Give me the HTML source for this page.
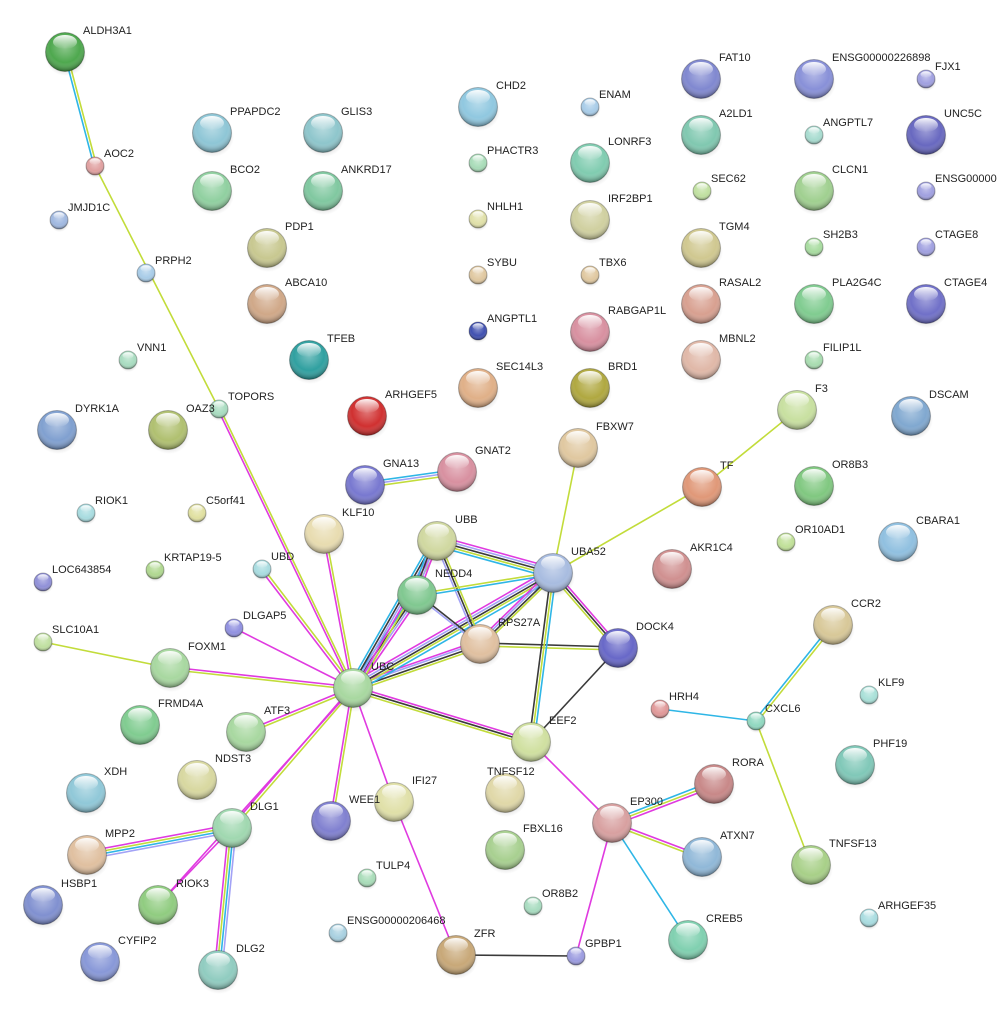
<!DOCTYPE html>
<html><head><meta charset="utf-8"><style>
html,body{margin:0;padding:0;background:#fff;}
svg{display:block;}
text{font-family:"Liberation Sans",sans-serif;font-size:11px;fill:#222;}
line{stroke-width:1.6;}
.m{stroke:#e03ae0}.y{stroke:#c2dc3a}.c{stroke:#2eb6e6}.k{stroke:#3a3a3a}.p{stroke:#a2a2f6}
</style></head><body>
<svg width="997" height="1018" viewBox="0 0 997 1018" xmlns="http://www.w3.org/2000/svg">
<defs>
<radialGradient id="sh" cx="50%" cy="38%" r="60%"><stop offset="0" stop-color="#fff" stop-opacity=".35"/><stop offset=".65" stop-color="#fff" stop-opacity="0"/><stop offset="1" stop-color="#000" stop-opacity=".35"/></radialGradient>
<linearGradient id="hl" x1="0" y1="0" x2="0" y2="1"><stop offset="0" stop-color="#fff" stop-opacity=".95"/><stop offset="1" stop-color="#fff" stop-opacity="0"/></linearGradient>
<radialGradient id="sd"><stop offset="0" stop-color="#000" stop-opacity=".35"/><stop offset="1" stop-color="#000" stop-opacity="0"/></radialGradient>
<g id="B"><circle r="19.5" fill="url(#sh)" stroke="#000" stroke-opacity=".25"/><ellipse cy="-10" rx="12" ry="7" fill="url(#hl)"/></g>
<g id="S"><circle r="9" fill="url(#sh)" stroke="#000" stroke-opacity=".25"/><ellipse cy="-4.5" rx="5.5" ry="3.2" fill="url(#hl)"/></g>
<ellipse id="BD" cx="1" cy="4" rx="21" ry="20" fill="url(#sd)"/>
<ellipse id="SD" cx="0.5" cy="2" rx="10" ry="10" fill="url(#sd)"/>
</defs>

<!-- edges -->
<line class="c" x1="64" y1="52" x2="94" y2="166"/><line class="y" x1="66.5" y1="51.5" x2="96.5" y2="165.5"/>
<line class="y" x1="95" y1="166" x2="219" y2="409"/>
<line class="m" x1="218" y1="409.5" x2="352" y2="688.5"/><line class="y" x1="220" y1="408.5" x2="354" y2="687.5"/>
<line class="m" x1="261" y1="570" x2="352" y2="689"/><line class="y" x1="263" y1="568" x2="354" y2="687"/>
<line class="m" x1="323" y1="534" x2="352" y2="688"/><line class="y" x1="325.5" y1="534" x2="354.5" y2="688"/>
<line class="m" x1="234" y1="628" x2="353" y2="688"/>
<line class="y" x1="43" y1="642" x2="170" y2="668"/>
<line class="m" x1="170" y1="667" x2="353" y2="687"/><line class="y" x1="170" y1="669.5" x2="353" y2="689.5"/>
<line class="m" x1="246" y1="731" x2="353" y2="687"/><line class="y" x1="247" y1="733.5" x2="354" y2="689.5"/>
<line class="m" x1="231" y1="827" x2="352" y2="687"/><line class="y" x1="233" y1="829" x2="354" y2="689"/>
<line class="m" x1="158" y1="905" x2="353" y2="688"/>
<line class="m" x1="330" y1="821" x2="352" y2="688"/><line class="y" x1="332.5" y1="821" x2="354.5" y2="688"/>
<line class="m" x1="353" y1="688" x2="394" y2="802"/>
<line class="m" x1="394" y1="802" x2="456" y2="955"/>
<line class="m" x1="353" y1="686" x2="531" y2="740"/><line class="k" x1="352.5" y1="688.5" x2="530.5" y2="742.5"/><line class="y" x1="352" y1="691" x2="530" y2="745"/>
<line class="m" x1="352" y1="684.5" x2="479" y2="640.5"/><line class="p" x1="352.5" y1="686.5" x2="479.5" y2="642.5"/><line class="k" x1="353.5" y1="689" x2="480.5" y2="645"/><line class="y" x1="354" y1="691.5" x2="481" y2="647.5"/>
<line class="m" x1="350.5" y1="683.5" x2="550.5" y2="568.5"/><line class="p" x1="351.5" y1="686" x2="551.5" y2="571"/><line class="k" x1="353" y1="688" x2="553" y2="573"/><line class="y" x1="354" y1="690" x2="554" y2="575"/><line class="c" x1="355.5" y1="692.5" x2="555.5" y2="577.5"/>
<line class="c" x1="350" y1="686" x2="414" y2="593"/><line class="k" x1="352" y1="687.5" x2="416" y2="594.5"/><line class="p" x1="354" y1="688.5" x2="418" y2="595.5"/><line class="m" x1="356" y1="690" x2="420" y2="597"/>
<line class="c" x1="349" y1="685.5" x2="433" y2="538.5"/><line class="k" x1="351" y1="687" x2="435" y2="540"/><line class="p" x1="353" y1="688" x2="437" y2="541"/><line class="m" x1="355" y1="689" x2="439" y2="542"/><line class="y" x1="357" y1="690.5" x2="441" y2="543.5"/>
<line class="m" x1="438" y1="536" x2="554" y2="568"/><line class="p" x1="437.5" y1="538.5" x2="553.5" y2="570.5"/><line class="k" x1="437" y1="541" x2="553" y2="573"/><line class="y" x1="436.5" y1="543.5" x2="552.5" y2="575.5"/><line class="c" x1="436" y1="546" x2="552" y2="578"/>
<line class="c" x1="432" y1="539" x2="412" y2="593"/><line class="k" x1="434" y1="540" x2="414" y2="594"/><line class="p" x1="436" y1="541" x2="416" y2="595"/><line class="m" x1="438" y1="542" x2="418" y2="596"/>
<line class="y" x1="439" y1="540" x2="482" y2="643"/><line class="k" x1="437" y1="541" x2="480" y2="644"/><line class="p" x1="435" y1="542" x2="478" y2="645"/>
<line class="y" x1="417" y1="594" x2="553" y2="572"/><line class="c" x1="417.5" y1="596.5" x2="553.5" y2="574.5"/>
<line class="p" x1="416" y1="595" x2="478" y2="644"/><line class="k" x1="418" y1="594" x2="480" y2="643"/>
<line class="m" x1="477.5" y1="641.5" x2="550.5" y2="570.5"/><line class="p" x1="479" y1="643" x2="552" y2="572"/><line class="k" x1="480.5" y1="645" x2="553.5" y2="574"/><line class="y" x1="482" y1="646.5" x2="555" y2="575.5"/>
<line class="k" x1="480" y1="643" x2="618" y2="647"/><line class="y" x1="480" y1="646" x2="618" y2="650"/>
<line class="m" x1="555" y1="571.5" x2="620" y2="646.5"/><line class="k" x1="553" y1="573" x2="618" y2="648"/><line class="y" x1="551" y1="574.5" x2="616" y2="649.5"/>
<line class="k" x1="551" y1="573" x2="529" y2="742"/><line class="y" x1="553.5" y1="573.5" x2="531.5" y2="742.5"/><line class="c" x1="556" y1="574" x2="534" y2="743"/>
<line class="k" x1="618" y1="648" x2="531" y2="742"/>
<line class="y" x1="553" y1="573" x2="578" y2="448"/>
<line class="y" x1="553" y1="573" x2="702" y2="487"/>
<line class="y" x1="702" y1="487" x2="797" y2="410"/>
<line class="c" x1="365" y1="482.5" x2="457" y2="469.5"/><line class="p" x1="365" y1="485" x2="457" y2="472"/><line class="y" x1="365.5" y1="487.5" x2="457.5" y2="474.5"/>
<line class="m" x1="531" y1="742" x2="612" y2="823"/>
<line class="c" x1="611" y1="820.5" x2="713" y2="781"/><line class="y" x1="612" y1="823" x2="714" y2="784"/><line class="m" x1="613" y1="825.5" x2="715" y2="786.5"/>
<line class="m" x1="612.5" y1="822" x2="702.5" y2="856"/><line class="y" x1="611.5" y1="824.5" x2="701.5" y2="858.5"/>
<line class="c" x1="612" y1="823" x2="688" y2="940"/>
<line class="m" x1="612" y1="823" x2="576" y2="956"/>
<line class="k" x1="576" y1="956" x2="456" y2="955"/>
<line class="m" x1="231.5" y1="824.5" x2="86.5" y2="851.5"/><line class="y" x1="232" y1="827" x2="87" y2="854"/><line class="c" x1="232.5" y1="829.5" x2="87.5" y2="856.5"/><line class="p" x1="233" y1="832" x2="88" y2="859"/>
<line class="m" x1="228.5" y1="828" x2="214.5" y2="970"/><line class="y" x1="231" y1="828.3" x2="217" y2="970.3"/><line class="c" x1="233.5" y1="828.6" x2="219.5" y2="970.6"/><line class="p" x1="236" y1="829" x2="222" y2="971"/>
<line class="m" x1="232" y1="828" x2="158" y2="905"/>
<line class="c" x1="660" y1="709" x2="756" y2="721"/>
<line class="c" x1="755" y1="720" x2="832" y2="624"/><line class="y" x1="757" y1="722" x2="834" y2="626"/>
<line class="y" x1="756" y1="721" x2="811" y2="865"/>

<!-- big nodes -->
<g>
<use href="#BD" x="65" y="52"/><circle cx="65" cy="52" r="19.5" fill="#4ea84e"/><use href="#B" x="65" y="52"/>
<use href="#BD" x="212" y="133"/><circle cx="212" cy="133" r="19.5" fill="#8ec6d6"/><use href="#B" x="212" y="133"/>
<use href="#BD" x="323" y="133"/><circle cx="323" cy="133" r="19.5" fill="#8ec6cc"/><use href="#B" x="323" y="133"/>
<use href="#BD" x="478" y="107"/><circle cx="478" cy="107" r="19.5" fill="#90c8e0"/><use href="#B" x="478" y="107"/>
<use href="#BD" x="701" y="79"/><circle cx="701" cy="79" r="19.5" fill="#8088d0"/><use href="#B" x="701" y="79"/>
<use href="#BD" x="814" y="79"/><circle cx="814" cy="79" r="19.5" fill="#8890d8"/><use href="#B" x="814" y="79"/>
<use href="#BD" x="701" y="135"/><circle cx="701" cy="135" r="19.5" fill="#80c8b0"/><use href="#B" x="701" y="135"/>
<use href="#BD" x="926" y="135"/><circle cx="926" cy="135" r="19.5" fill="#6868c0"/><use href="#B" x="926" y="135"/>
<use href="#BD" x="212" y="191"/><circle cx="212" cy="191" r="19.5" fill="#90d0a0"/><use href="#B" x="212" y="191"/>
<use href="#BD" x="323" y="191"/><circle cx="323" cy="191" r="19.5" fill="#80c8a0"/><use href="#B" x="323" y="191"/>
<use href="#BD" x="590" y="163"/><circle cx="590" cy="163" r="19.5" fill="#80ccb0"/><use href="#B" x="590" y="163"/>
<use href="#BD" x="814" y="191"/><circle cx="814" cy="191" r="19.5" fill="#a0d090"/><use href="#B" x="814" y="191"/>
<use href="#BD" x="267" y="248"/><circle cx="267" cy="248" r="19.5" fill="#c8c890"/><use href="#B" x="267" y="248"/>
<use href="#BD" x="590" y="220"/><circle cx="590" cy="220" r="19.5" fill="#d0d0a0"/><use href="#B" x="590" y="220"/>
<use href="#BD" x="701" y="248"/><circle cx="701" cy="248" r="19.5" fill="#d0c890"/><use href="#B" x="701" y="248"/>
<use href="#BD" x="267" y="304"/><circle cx="267" cy="304" r="19.5" fill="#d0a888"/><use href="#B" x="267" y="304"/>
<use href="#BD" x="701" y="304"/><circle cx="701" cy="304" r="19.5" fill="#d8a090"/><use href="#B" x="701" y="304"/>
<use href="#BD" x="814" y="304"/><circle cx="814" cy="304" r="19.5" fill="#80cc90"/><use href="#B" x="814" y="304"/>
<use href="#BD" x="926" y="304"/><circle cx="926" cy="304" r="19.5" fill="#7070c8"/><use href="#B" x="926" y="304"/>
<use href="#BD" x="590" y="332"/><circle cx="590" cy="332" r="19.5" fill="#d890a0"/><use href="#B" x="590" y="332"/>
<use href="#BD" x="309" y="360"/><circle cx="309" cy="360" r="19.5" fill="#30a0a0"/><use href="#B" x="309" y="360"/>
<use href="#BD" x="701" y="360"/><circle cx="701" cy="360" r="19.5" fill="#e0b8a8"/><use href="#B" x="701" y="360"/>
<use href="#BD" x="478" y="388"/><circle cx="478" cy="388" r="19.5" fill="#e0b088"/><use href="#B" x="478" y="388"/>
<use href="#BD" x="590" y="388"/><circle cx="590" cy="388" r="19.5" fill="#b0a840"/><use href="#B" x="590" y="388"/>
<use href="#BD" x="367" y="416"/><circle cx="367" cy="416" r="19.5" fill="#d03030"/><use href="#B" x="367" y="416"/>
<use href="#BD" x="57" y="430"/><circle cx="57" cy="430" r="19.5" fill="#80a0d0"/><use href="#B" x="57" y="430"/>
<use href="#BD" x="168" y="430"/><circle cx="168" cy="430" r="19.5" fill="#b0c070"/><use href="#B" x="168" y="430"/>
<use href="#BD" x="797" y="410"/><circle cx="797" cy="410" r="19.5" fill="#c8e0a0"/><use href="#B" x="797" y="410"/>
<use href="#BD" x="911" y="416"/><circle cx="911" cy="416" r="19.5" fill="#80a8d0"/><use href="#B" x="911" y="416"/>
<use href="#BD" x="578" y="448"/><circle cx="578" cy="448" r="19.5" fill="#e0c8a0"/><use href="#B" x="578" y="448"/>
<use href="#BD" x="365" y="485"/><circle cx="365" cy="485" r="19.5" fill="#7878d0"/><use href="#B" x="365" y="485"/>
<use href="#BD" x="457" y="472"/><circle cx="457" cy="472" r="19.5" fill="#d890a0"/><use href="#B" x="457" y="472"/>
<use href="#BD" x="702" y="487"/><circle cx="702" cy="487" r="19.5" fill="#e09878"/><use href="#B" x="702" y="487"/>
<use href="#BD" x="814" y="486"/><circle cx="814" cy="486" r="19.5" fill="#80c880"/><use href="#B" x="814" y="486"/>
<use href="#BD" x="324" y="534"/><circle cx="324" cy="534" r="19.5" fill="#e8dcb0"/><use href="#B" x="324" y="534"/>
<use href="#BD" x="437" y="541"/><circle cx="437" cy="541" r="19.5" fill="#d0d8a0"/><use href="#B" x="437" y="541"/>
<use href="#BD" x="553" y="573"/><circle cx="553" cy="573" r="19.5" fill="#a8bce0"/><use href="#B" x="553" y="573"/>
<use href="#BD" x="672" y="569"/><circle cx="672" cy="569" r="19.5" fill="#d09090"/><use href="#B" x="672" y="569"/>
<use href="#BD" x="898" y="542"/><circle cx="898" cy="542" r="19.5" fill="#90c0e0"/><use href="#B" x="898" y="542"/>
<use href="#BD" x="417" y="595"/><circle cx="417" cy="595" r="19.5" fill="#80c890"/><use href="#B" x="417" y="595"/>
<use href="#BD" x="480" y="644"/><circle cx="480" cy="644" r="19.5" fill="#e0c0a0"/><use href="#B" x="480" y="644"/>
<use href="#BD" x="618" y="648"/><circle cx="618" cy="648" r="19.5" fill="#6868c8"/><use href="#B" x="618" y="648"/>
<use href="#BD" x="833" y="625"/><circle cx="833" cy="625" r="19.5" fill="#d8c898"/><use href="#B" x="833" y="625"/>
<use href="#BD" x="170" y="668"/><circle cx="170" cy="668" r="19.5" fill="#a8d8a0"/><use href="#B" x="170" y="668"/>
<use href="#BD" x="353" y="688"/><circle cx="353" cy="688" r="19.5" fill="#a8d8a0"/><use href="#B" x="353" y="688"/>
<use href="#BD" x="140" y="725"/><circle cx="140" cy="725" r="19.5" fill="#80cc90"/><use href="#B" x="140" y="725"/>
<use href="#BD" x="246" y="732"/><circle cx="246" cy="732" r="19.5" fill="#a8d8a0"/><use href="#B" x="246" y="732"/>
<use href="#BD" x="531" y="742"/><circle cx="531" cy="742" r="19.5" fill="#d0e0a0"/><use href="#B" x="531" y="742"/>
<use href="#BD" x="855" y="765"/><circle cx="855" cy="765" r="19.5" fill="#80c8b8"/><use href="#B" x="855" y="765"/>
<use href="#BD" x="197" y="780"/><circle cx="197" cy="780" r="19.5" fill="#d8d8a0"/><use href="#B" x="197" y="780"/>
<use href="#BD" x="86" y="793"/><circle cx="86" cy="793" r="19.5" fill="#90c8d8"/><use href="#B" x="86" y="793"/>
<use href="#BD" x="505" y="793"/><circle cx="505" cy="793" r="19.5" fill="#e0d8a8"/><use href="#B" x="505" y="793"/>
<use href="#BD" x="714" y="784"/><circle cx="714" cy="784" r="19.5" fill="#c88888"/><use href="#B" x="714" y="784"/>
<use href="#BD" x="394" y="802"/><circle cx="394" cy="802" r="19.5" fill="#e0e0a8"/><use href="#B" x="394" y="802"/>
<use href="#BD" x="331" y="821"/><circle cx="331" cy="821" r="19.5" fill="#8080d0"/><use href="#B" x="331" y="821"/>
<use href="#BD" x="232" y="828"/><circle cx="232" cy="828" r="19.5" fill="#a0d8b0"/><use href="#B" x="232" y="828"/>
<use href="#BD" x="612" y="823"/><circle cx="612" cy="823" r="19.5" fill="#d8a0a0"/><use href="#B" x="612" y="823"/>
<use href="#BD" x="87" y="855"/><circle cx="87" cy="855" r="19.5" fill="#e0c0a0"/><use href="#B" x="87" y="855"/>
<use href="#BD" x="505" y="850"/><circle cx="505" cy="850" r="19.5" fill="#a8d090"/><use href="#B" x="505" y="850"/>
<use href="#BD" x="702" y="857"/><circle cx="702" cy="857" r="19.5" fill="#90b8d8"/><use href="#B" x="702" y="857"/>
<use href="#BD" x="811" y="865"/><circle cx="811" cy="865" r="19.5" fill="#a8d088"/><use href="#B" x="811" y="865"/>
<use href="#BD" x="43" y="905"/><circle cx="43" cy="905" r="19.5" fill="#8090d0"/><use href="#B" x="43" y="905"/>
<use href="#BD" x="158" y="905"/><circle cx="158" cy="905" r="19.5" fill="#90cc80"/><use href="#B" x="158" y="905"/>
<use href="#BD" x="688" y="940"/><circle cx="688" cy="940" r="19.5" fill="#80d0b0"/><use href="#B" x="688" y="940"/>
<use href="#BD" x="456" y="955"/><circle cx="456" cy="955" r="19.5" fill="#c8a878"/><use href="#B" x="456" y="955"/>
<use href="#BD" x="100" y="962"/><circle cx="100" cy="962" r="19.5" fill="#8898d8"/><use href="#B" x="100" y="962"/>
<use href="#BD" x="218" y="970"/><circle cx="218" cy="970" r="19.5" fill="#90ccc0"/><use href="#B" x="218" y="970"/>
</g>
<!-- small nodes -->
<g>
<use href="#SD" x="95" y="166"/><circle cx="95" cy="166" r="9" fill="#e0a0a0"/><use href="#S" x="95" y="166"/>
<use href="#SD" x="59" y="220"/><circle cx="59" cy="220" r="9" fill="#a0b8e0"/><use href="#S" x="59" y="220"/>
<use href="#SD" x="146" y="273"/><circle cx="146" cy="273" r="9" fill="#a8cce8"/><use href="#S" x="146" y="273"/>
<use href="#SD" x="128" y="360"/><circle cx="128" cy="360" r="9" fill="#a8dcc0"/><use href="#S" x="128" y="360"/>
<use href="#SD" x="219" y="409"/><circle cx="219" cy="409" r="9" fill="#a8dcc0"/><use href="#S" x="219" y="409"/>
<use href="#SD" x="590" y="107"/><circle cx="590" cy="107" r="9" fill="#a8cce8"/><use href="#S" x="590" y="107"/>
<use href="#SD" x="478" y="163"/><circle cx="478" cy="163" r="9" fill="#a8dcb8"/><use href="#S" x="478" y="163"/>
<use href="#SD" x="478" y="219"/><circle cx="478" cy="219" r="9" fill="#e0e0a8"/><use href="#S" x="478" y="219"/>
<use href="#SD" x="478" y="275"/><circle cx="478" cy="275" r="9" fill="#e0c8a0"/><use href="#S" x="478" y="275"/>
<use href="#SD" x="590" y="275"/><circle cx="590" cy="275" r="9" fill="#e0c8a0"/><use href="#S" x="590" y="275"/>
<use href="#SD" x="478" y="331"/><circle cx="478" cy="331" r="9" fill="#4050b0"/><use href="#S" x="478" y="331"/>
<use href="#SD" x="814" y="135"/><circle cx="814" cy="135" r="9" fill="#a8dcd0"/><use href="#S" x="814" y="135"/>
<use href="#SD" x="926" y="79"/><circle cx="926" cy="79" r="9" fill="#a0a0e0"/><use href="#S" x="926" y="79"/>
<use href="#SD" x="926" y="191"/><circle cx="926" cy="191" r="9" fill="#a0a0e0"/><use href="#S" x="926" y="191"/>
<use href="#SD" x="702" y="191"/><circle cx="702" cy="191" r="9" fill="#c0e0a0"/><use href="#S" x="702" y="191"/>
<use href="#SD" x="814" y="247"/><circle cx="814" cy="247" r="9" fill="#a8dca0"/><use href="#S" x="814" y="247"/>
<use href="#SD" x="926" y="247"/><circle cx="926" cy="247" r="9" fill="#a0a0e0"/><use href="#S" x="926" y="247"/>
<use href="#SD" x="814" y="360"/><circle cx="814" cy="360" r="9" fill="#a8dcb0"/><use href="#S" x="814" y="360"/>
<use href="#SD" x="86" y="513"/><circle cx="86" cy="513" r="9" fill="#a8dce0"/><use href="#S" x="86" y="513"/>
<use href="#SD" x="197" y="513"/><circle cx="197" cy="513" r="9" fill="#e0e0a0"/><use href="#S" x="197" y="513"/>
<use href="#SD" x="786" y="542"/><circle cx="786" cy="542" r="9" fill="#c0e098"/><use href="#S" x="786" y="542"/>
<use href="#SD" x="262" y="569"/><circle cx="262" cy="569" r="9" fill="#a8dce0"/><use href="#S" x="262" y="569"/>
<use href="#SD" x="155" y="570"/><circle cx="155" cy="570" r="9" fill="#b0d890"/><use href="#S" x="155" y="570"/>
<use href="#SD" x="43" y="582"/><circle cx="43" cy="582" r="9" fill="#9090d8"/><use href="#S" x="43" y="582"/>
<use href="#SD" x="234" y="628"/><circle cx="234" cy="628" r="9" fill="#9090e0"/><use href="#S" x="234" y="628"/>
<use href="#SD" x="43" y="642"/><circle cx="43" cy="642" r="9" fill="#c0e0a0"/><use href="#S" x="43" y="642"/>
<use href="#SD" x="660" y="709"/><circle cx="660" cy="709" r="9" fill="#e09898"/><use href="#S" x="660" y="709"/>
<use href="#SD" x="756" y="721"/><circle cx="756" cy="721" r="9" fill="#90d8c0"/><use href="#S" x="756" y="721"/>
<use href="#SD" x="869" y="695"/><circle cx="869" cy="695" r="9" fill="#a8e0d8"/><use href="#S" x="869" y="695"/>
<use href="#SD" x="367" y="878"/><circle cx="367" cy="878" r="9" fill="#a8dcb8"/><use href="#S" x="367" y="878"/>
<use href="#SD" x="533" y="906"/><circle cx="533" cy="906" r="9" fill="#a8dcc0"/><use href="#S" x="533" y="906"/>
<use href="#SD" x="338" y="933"/><circle cx="338" cy="933" r="9" fill="#a8d0e0"/><use href="#S" x="338" y="933"/>
<use href="#SD" x="869" y="918"/><circle cx="869" cy="918" r="9" fill="#a8dce0"/><use href="#S" x="869" y="918"/>
<use href="#SD" x="576" y="956"/><circle cx="576" cy="956" r="9" fill="#9c9ce0"/><use href="#S" x="576" y="956"/>
</g>

<text x="83" y="34">ALDH3A1</text>
<text x="230" y="115">PPAPDC2</text>
<text x="341" y="115">GLIS3</text>
<text x="496" y="89">CHD2</text>
<text x="719" y="61">FAT10</text>
<text x="832" y="61">ENSG00000226898</text>
<text x="719" y="117">A2LD1</text>
<text x="944" y="117">UNC5C</text>
<text x="230" y="173">BCO2</text>
<text x="341" y="173">ANKRD17</text>
<text x="608" y="145">LONRF3</text>
<text x="832" y="173">CLCN1</text>
<text x="285" y="230">PDP1</text>
<text x="608" y="202">IRF2BP1</text>
<text x="719" y="230">TGM4</text>
<text x="285" y="286">ABCA10</text>
<text x="719" y="286">RASAL2</text>
<text x="832" y="286">PLA2G4C</text>
<text x="944" y="286">CTAGE4</text>
<text x="608" y="314">RABGAP1L</text>
<text x="327" y="342">TFEB</text>
<text x="719" y="342">MBNL2</text>
<text x="496" y="370">SEC14L3</text>
<text x="608" y="370">BRD1</text>
<text x="385" y="398">ARHGEF5</text>
<text x="75" y="412">DYRK1A</text>
<text x="186" y="412">OAZ3</text>
<text x="815" y="392">F3</text>
<text x="929" y="398">DSCAM</text>
<text x="596" y="430">FBXW7</text>
<text x="383" y="467">GNA13</text>
<text x="475" y="454">GNAT2</text>
<text x="720" y="469">TF</text>
<text x="832" y="468">OR8B3</text>
<text x="342" y="516">KLF10</text>
<text x="455" y="523">UBB</text>
<text x="571" y="555">UBA52</text>
<text x="690" y="551">AKR1C4</text>
<text x="916" y="524">CBARA1</text>
<text x="435" y="577">NEDD4</text>
<text x="498" y="626">RPS27A</text>
<text x="636" y="630">DOCK4</text>
<text x="851" y="607">CCR2</text>
<text x="188" y="650">FOXM1</text>
<text x="371" y="670">UBC</text>
<text x="158" y="707">FRMD4A</text>
<text x="264" y="714">ATF3</text>
<text x="549" y="724">EEF2</text>
<text x="873" y="747">PHF19</text>
<text x="215" y="762">NDST3</text>
<text x="104" y="775">XDH</text>
<text x="487" y="775">TNFSF12</text>
<text x="732" y="766">RORA</text>
<text x="412" y="784">IFI27</text>
<text x="349" y="803">WEE1</text>
<text x="250" y="810">DLG1</text>
<text x="630" y="805">EP300</text>
<text x="105" y="837">MPP2</text>
<text x="523" y="832">FBXL16</text>
<text x="720" y="839">ATXN7</text>
<text x="829" y="847">TNFSF13</text>
<text x="61" y="887">HSBP1</text>
<text x="176" y="887">RIOK3</text>
<text x="706" y="922">CREB5</text>
<text x="474" y="937">ZFR</text>
<text x="118" y="944">CYFIP2</text>
<text x="236" y="952">DLG2</text>
<text x="104" y="157">AOC2</text>
<text x="68" y="211">JMJD1C</text>
<text x="155" y="264">PRPH2</text>
<text x="137" y="351">VNN1</text>
<text x="228" y="400">TOPORS</text>
<text x="599" y="98">ENAM</text>
<text x="487" y="154">PHACTR3</text>
<text x="487" y="210">NHLH1</text>
<text x="487" y="266">SYBU</text>
<text x="599" y="266">TBX6</text>
<text x="487" y="322">ANGPTL1</text>
<text x="823" y="126">ANGPTL7</text>
<text x="935" y="70">FJX1</text>
<text x="935" y="182">ENSG00000</text>
<text x="711" y="182">SEC62</text>
<text x="823" y="238">SH2B3</text>
<text x="935" y="238">CTAGE8</text>
<text x="823" y="351">FILIP1L</text>
<text x="95" y="504">RIOK1</text>
<text x="206" y="504">C5orf41</text>
<text x="795" y="533">OR10AD1</text>
<text x="271" y="560">UBD</text>
<text x="164" y="561">KRTAP19-5</text>
<text x="52" y="573">LOC643854</text>
<text x="243" y="619">DLGAP5</text>
<text x="52" y="633">SLC10A1</text>
<text x="669" y="700">HRH4</text>
<text x="765" y="712">CXCL6</text>
<text x="878" y="686">KLF9</text>
<text x="376" y="869">TULP4</text>
<text x="542" y="897">OR8B2</text>
<text x="347" y="924">ENSG00000206468</text>
<text x="878" y="909">ARHGEF35</text>
<text x="585" y="947">GPBP1</text>
</svg>
</body></html>
